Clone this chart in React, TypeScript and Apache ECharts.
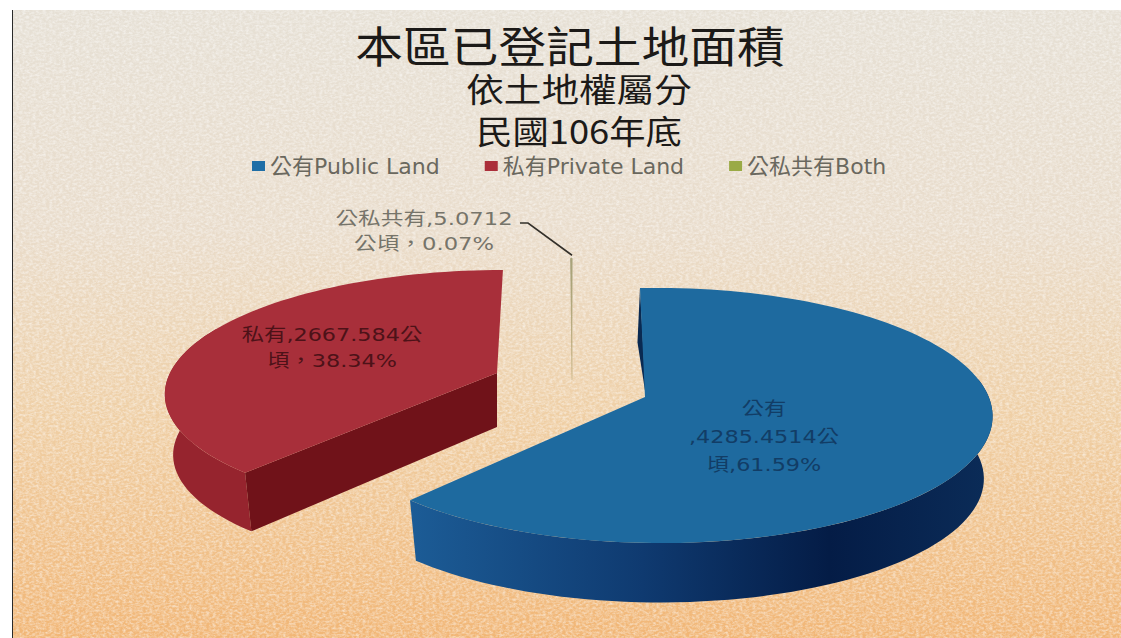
import React, { useEffect, useRef } from "react";
import * as echarts from "echarts";

const categories = ["公有", "私有", "公私共有"];
const legendNames = ["公有Public Land", "私有Private Land", "公私共有Both"];
const areas = [4285.4514, 2667.584, 5.0712];
const labelLines = [
  ["公有", ",4285.4514公", "頃,61.59%"],
  ["私有,2667.584公", "頃，38.34%"],
  ["公私共有,5.0712", "公頃，0.07%"],
];
const legendColors = ["#1f6ea6", "#ab2f3a", "#9aaa45"];

const FONT = '"Noto Sans CJK TC", "Noto Sans", sans-serif';
const LATIN_FONT = '"DejaVu Sans", "Noto Sans CJK TC", sans-serif';
const START_ANGLE = -1;
const TOTAL = areas.reduce((s, v) => s + v, 0);

const geometry = [
  { cx: 645, cy: 397, a: 330, b: 124.8, k: 0.145, m: 0.04, e: 0, f: 0, depth: 63, scale: 0.975 },
  { cx: 497, cy: 373, a: 326, b: 118.5, k: 0.15, m: 0, e: -14, f: 2, depth: 61, scale: 0.975 },
  { cx: 572, cy: 380, a: 320, b: 140, k: 0.15, m: 0, e: 0, f: 0, depth: 0, scale: 1 },
];
const labelPlace = [
  { x: 764, y: [409, 437, 465], fill: "#123d66", fs: 18, sx: 1.24 },
  { x: 332, y: [335, 361], fill: "#4d1218", fs: 18, sx: 1.24 },
  { x: 424, y: [219, 244], fill: "#76746a", fs: 18, sx: 1.26 },
];

type G = (typeof geometry)[number];
const project = (g: G, deg: number) => {
  const t = (deg * Math.PI) / 180;
  const u = Math.sin(t);
  const v = -Math.cos(t);
  const w = 1 - g.k * v - g.m * u;
  return [g.cx + (g.a * u + g.e * v) / w, g.cy + (g.b * v + g.f * u) / w];
};
const lower = (g: G, p: number[]) => [
  g.cx + (p[0] - g.cx) * g.scale,
  g.cy + (p[1] - g.cy) * g.scale + g.depth,
];
const arc = (g: G, from: number, to: number) => {
  const n = Math.max(2, Math.ceil(Math.abs(to - from) / 2));
  const pts: number[][] = [];
  for (let i = 0; i <= n; i++) pts.push(project(g, from + ((to - from) * i) / n));
  return pts;
};
const hGrad = (stops: [number, string][]) => ({
  type: "linear",
  x: 0,
  y: 0,
  x2: 1,
  y2: 0,
  colorStops: stops.map(([offset, color]) => ({ offset, color })),
});

const sweepRange = (idx: number) => {
  let acc = START_ANGLE;
  for (let i = 0; i < idx; i++) acc += (areas[i] / TOTAL) * 360;
  return [acc, acc + (areas[idx] / TOTAL) * 360];
};

const textNodes = (idx: number) => {
  const p = labelPlace[idx];
  return labelLines[idx].map((line, i) => ({
    type: "text",
    x: p.x,
    y: p.y[i],
    scaleX: p.sx,
    z2: 20,
    style: {
      text: line,
      fill: p.fill,
      font: `${p.fs}px ${LATIN_FONT}`,
      align: "center",
      verticalAlign: "middle",
    },
  }));
};

const renderBlue = (_: any, api: any) => {
  const g = geometry[0];
  const [a0, a1] = sweepRange(0);
  const top = arc(g, a0, a1);
  const wallTop = arc(g, 82, a1);
  const wall = [...wallTop, ...wallTop.map((p) => lower(g, p)).reverse()];
  const start = project(g, a0);
  const sliver = [
    start,
    [g.cx + 1, g.cy],
    [(start[0] + g.cx) / 2 - 5, (start[1] + g.cy) / 2],
  ];
  return {
    type: "group",
    children: [
      {
        type: "polygon",
        shape: { points: wall },
        style: {
          fill: hGrad([
            [0, "#1c5c96"],
            [0.4, "#0f3a70"],
            [0.72, "#041c46"],
            [1, "#0b2c58"],
          ]),
        },
      },
      { type: "polygon", shape: { points: sliver }, style: { fill: "#0a2a52" } },
      {
        type: "polygon",
        shape: { points: [[g.cx, g.cy], ...top] },
        style: { fill: "#1e6a9f" },
      },
      ...textNodes(0),
    ],
  };
};

const renderRed = (_: any, api: any) => {
  const g = geometry[1];
  const [a0, a1] = sweepRange(1);
  const top = arc(g, a0, a1);
  const wallTop = arc(g, a0, 292);
  const wall = [...wallTop, ...wallTop.map((p) => lower(g, p)).reverse()];
  const corner = project(g, a0);
  const front = [corner, [g.cx, g.cy], [g.cx, g.cy + 54], lower(g, corner)];
  return {
    type: "group",
    children: [
      { type: "polygon", shape: { points: wall }, style: { fill: "#96242e" } },
      { type: "polygon", shape: { points: front }, style: { fill: "#701219" } },
      {
        type: "polygon",
        shape: { points: [[g.cx, g.cy], ...top] },
        style: { fill: "#a82f3a" },
      },
      ...textNodes(1),
    ],
  };
};

const renderGreen = (_: any, api: any) => {
  const g = geometry[2];
  const [a0, a1] = sweepRange(2);
  const tip = project(g, 360);
  return {
    type: "group",
    children: [
      {
        type: "polygon",
        shape: { points: [[g.cx, g.cy], ...arc(g, a0 - a1 + 360, 360)] },
        style: {
          fill: "#b0a878",
          stroke: {
            type: "linear",
            x: 0,
            y: 0,
            x2: 0,
            y2: 1,
            colorStops: [
              { offset: 0, color: "#a3a07a" },
              { offset: 1, color: "rgba(190,170,120,0.35)" },
            ],
          },
          lineWidth: 1,
        },
      },
      {
        type: "polyline",
        shape: { points: [[520, 223], [528, 223], [tip[0], tip[1] - 3]] },
        style: { stroke: "#33302a", lineWidth: 1.6, fill: "none" },
      },
      ...textNodes(2),
    ],
  };
};

const renderers = [renderBlue, renderRed, renderGreen];

const noise = `url("data:image/svg+xml;utf8,${encodeURIComponent(
  '<svg xmlns="http://www.w3.org/2000/svg" width="1121" height="638"><filter id="n"><feTurbulence type="fractalNoise" baseFrequency="0.3 0.45" numOctaves="3" seed="4"/><feColorMatrix values="0 0 0 0 1 0 0 0 0 1 0 0 0 0 1 1 0 0 0 -0.34"/></filter><rect width="1121" height="638" filter="url(#n)"/></svg>'
)}")`;

const titleText = (text: string, y: number, fontSize: number, scaleX: number, x = 570) => ({
  type: "text",
  x,
  y,
  scaleX,
  style: {
    text,
    fill: "#1c1a18",
    font: `${fontSize}px ${FONT}`,
    align: "center",
    verticalAlign: "middle",
  },
});

export default function App() {
  const ref = useRef<HTMLDivElement>(null);
  useEffect(() => {
    document.body.style.margin = "0";
    const chart = echarts.init(ref.current!, undefined, { renderer: "svg" });
    chart.setOption({
      animation: false,
      backgroundColor: "transparent",
      legend: {
        left: 247,
        top: 150,
        itemWidth: 13,
        itemHeight: 10,
        itemGap: 45,
        icon: "rect",
        textStyle: { fontFamily: LATIN_FONT, fontSize: 22, color: "#6a685e" },
        data: legendNames,
      },
      graphic: [
        titleText("本區已登記土地面積", 44, 43, 1.11),
        titleText("依土地權屬分", 88, 33, 1.14, 579),
        titleText("民國106年底", 130, 33, 1.1, 579),
      ],
      series: categories.map((c, i) => ({
        type: "custom",
        name: legendNames[i],
        coordinateSystem: "none",
        itemStyle: { color: legendColors[i] },
        renderItem: renderers[i],
        data: [{ name: c, value: [areas[i]] }],
      })),
    });
    return () => chart.dispose();
  }, []);
  return (
    <div style={{ position: "absolute", left: 0, top: 0, width: 1121, height: 638, background: "#fff", overflow: "hidden" }}>
      <div
        style={{
          position: "absolute",
          left: 12,
          top: 10,
          right: 0,
          bottom: 0,
          borderLeft: "1.5px solid #2a2a2a",
          backgroundImage: `${noise}, linear-gradient(180deg, #e6e0d5 0%, #e9dccb 35%, #efcfa5 65%, #f1b676 100%)`,
        }}
      />
      <div ref={ref} style={{ position: "absolute", left: 0, top: 0, width: 1121, height: 638 }} />
    </div>
  );
}
